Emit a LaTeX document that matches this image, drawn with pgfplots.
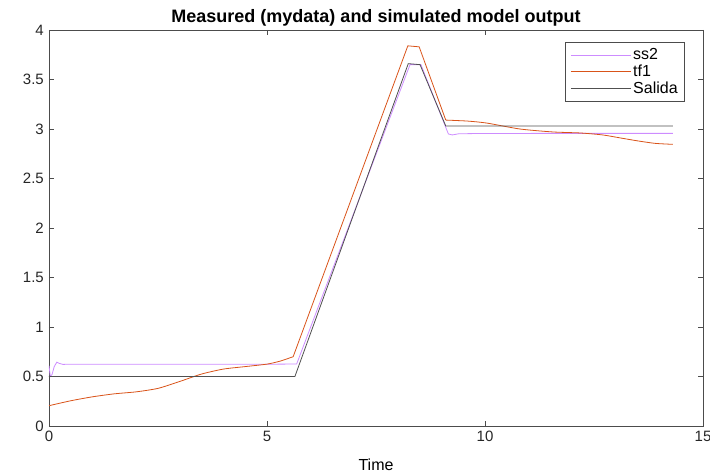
\documentclass[border=0pt]{standalone}
\usepackage{pgfplots}
\pgfplotsset{compat=1.18}
\usepackage{fontspec}
\setmainfont{Liberation Sans}
\definecolor{ssc}{RGB}{205,140,255}
\definecolor{tfc}{RGB}{217,83,25}
\definecolor{sac}{RGB}{80,80,80}
\begin{document}
\fontsize{15}{18}\selectfont
\begin{tikzpicture}[x=1pt,y=1pt]
\begin{axis}[
  scale only axis,
  width=654pt, height=396pt,
  xmin=0, xmax=15, ymin=0, ymax=4,
  xtick={0,5,10,15},
  ytick={0,0.5,1,1.5,2,2.5,3,3.5,4},
  yticklabels={0,0.5,1,1.5,2,2.5,3,3.5,4},
  /pgf/number format/assume math mode=true,
  tick label style={font=\fontsize{15}{18}\selectfont, color=black!85},
  tick align=inside,
  major tick length=5pt,
  axis line style={color=black!70, line width=0.6pt},
  tick style={color=black!70, line width=0.6pt},
  xlabel={Time},
  xlabel style={font=\fontsize{16}{18}\selectfont, yshift=-7pt},
  title={\textbf{Measured (mydata) and simulated model output}},
  title style={font=\fontsize{18}{20}\selectfont, yshift=-7pt},
  legend style={at={(rel axis cs:1,1)}, anchor=north east, xshift=-18pt, yshift=-12pt,
    font=\fontsize{16}{18}\selectfont, draw=black!70, line width=0.6pt,
    inner xsep=5pt, inner ysep=4pt, row sep=-1pt},
  legend cell align=left,
  legend image code/.code={\draw[#1] (0pt,0pt) -- (60pt,0pt);},
  clip=true,
]
\addplot[ssc, line width=0.8pt] coordinates {
(0,0.61) (0.03,0.5) (0.07,0.52) (0.12,0.6) (0.18,0.645) (0.24,0.632) (0.32,0.622) (0.45,0.624)
(1,0.624) (3,0.624) (5,0.624) (5.68,0.626)
(8.28,3.65) (8.53,3.65) (9.16,2.95) (9.25,2.94) (9.4,2.952) (10,2.955) (12,2.956) (14.31,2.956)
};
\addlegendentry{ss2}
\addplot[tfc, line width=0.8pt, smooth, tension=0.4] coordinates {
(0,0.205) (0.5,0.255) (1,0.295) (1.5,0.325) (2,0.345) (2.5,0.38) (3,0.45) (3.5,0.525)
(4,0.575) (4.5,0.6) (5,0.625) (5.3,0.655) (5.6,0.70)
};
\addlegendentry{tf1}
\addplot[tfc, line width=0.8pt, forget plot] coordinates {
(5.6,0.70) (8.23,3.84) (8.49,3.83) (9.1,3.09)
};
\addplot[tfc, line width=0.8pt, smooth, tension=0.4, forget plot] coordinates {
(9.1,3.09) (9.6,3.08) (10.04,3.06) (10.8,3.0) (11.56,2.97)
(12.18,2.96) (12.7,2.94) (13.1,2.91) (13.5,2.88) (13.9,2.855) (14.31,2.845)
};
\addplot[sac, line width=0.8pt] coordinates {
(0,0.5) (5.64,0.5) (8.24,3.66) (8.51,3.65) (9.1,3.03) (14.31,3.03)
};
\addlegendentry{Salida}
\end{axis}
\pgfresetboundingbox
\path (-49pt,-50pt) rectangle (661pt,426pt);
\end{tikzpicture}
\end{document}
